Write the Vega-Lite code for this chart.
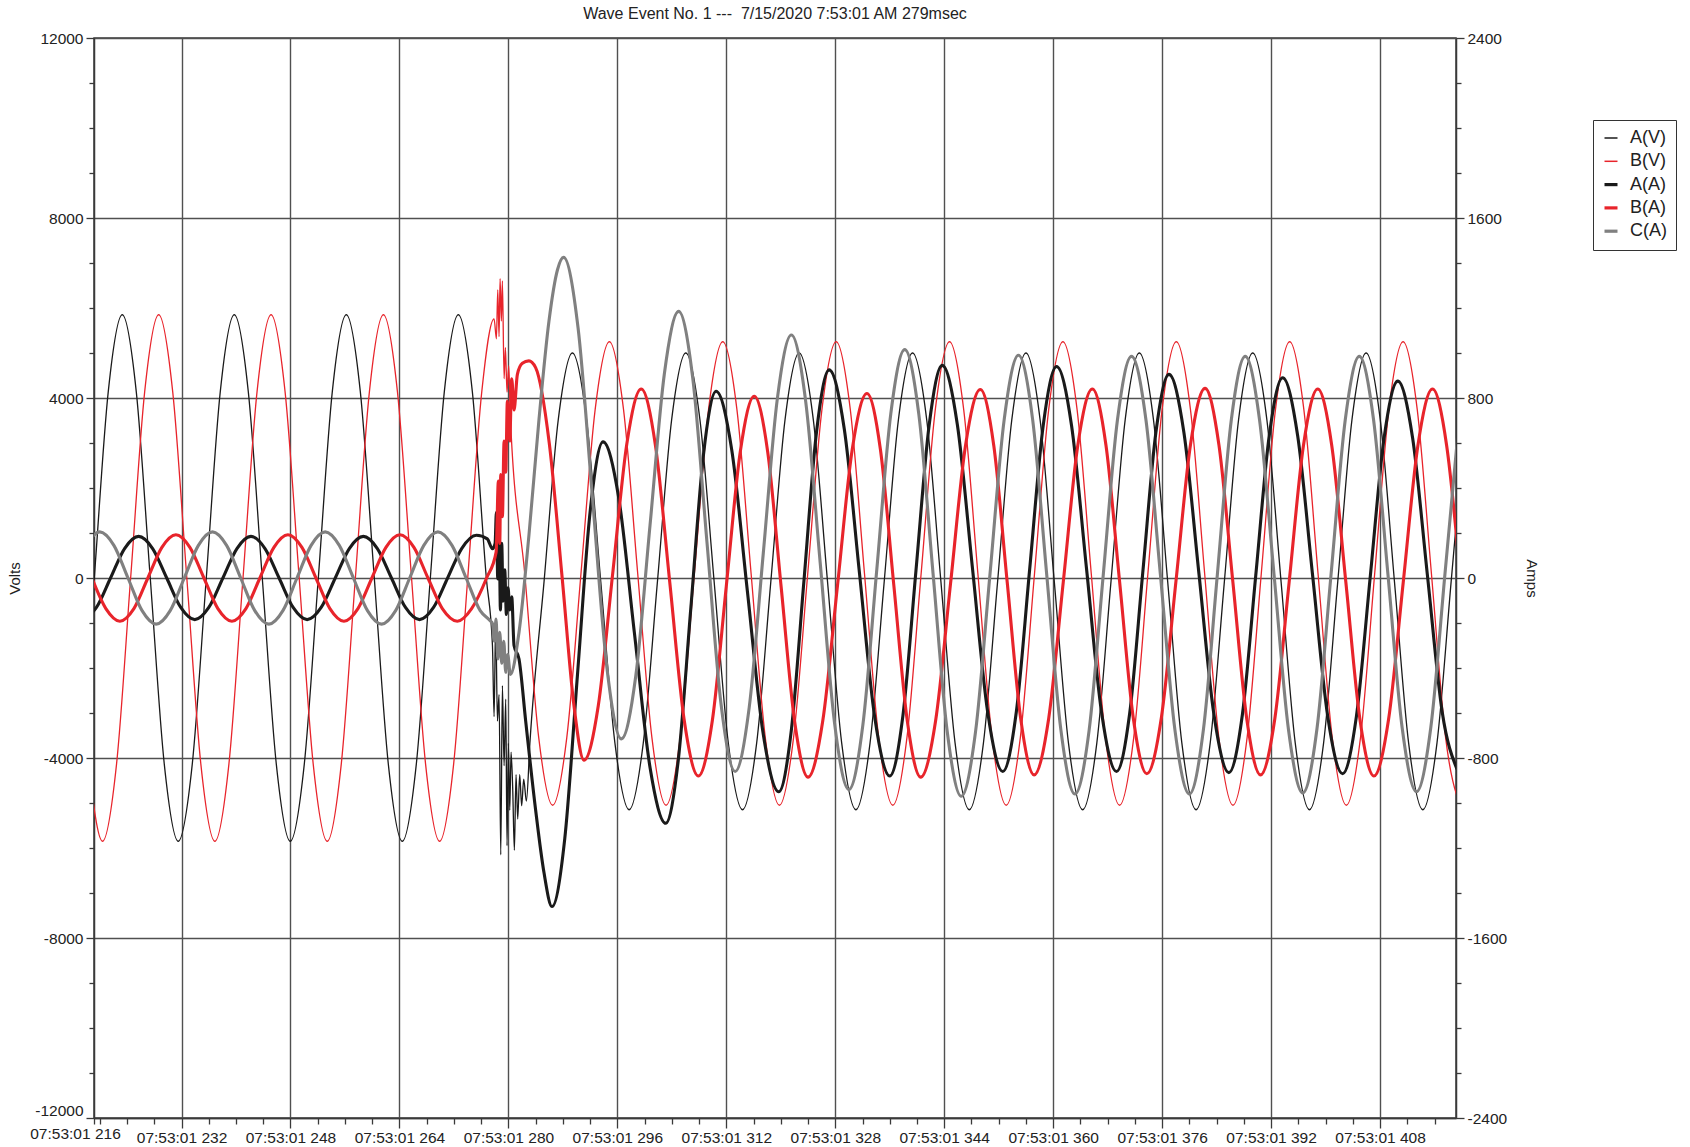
{
"$schema": "https://vega.github.io/schema/vega-lite/v6.json",
"width": 1362, "height": 1080,
"autosize": {"type": "none"},
"padding": {"left": 94, "top": 38, "right": 234, "bottom": 29},
"background": "white",
"config": {
  "font": "Liberation Sans",
  "view": {"stroke": "#3a3a3a", "strokeWidth": 1.5},
  "axis": {"labelFont": "Liberation Sans", "titleFont": "Liberation Sans", "labelColor": "#222", "titleColor": "#222", "titleFontWeight": "normal", "domainColor": "#3a3a3a", "tickColor": "#3a3a3a", "domainWidth": 1.5, "tickWidth": 1.3, "gridColor": "#505050", "gridWidth": 1.4, "labelFontSize": 15.5, "titleFontSize": 15}
},
"title": {"text": "Wave Event No. 1 ---\u00a0 7/15/2020 7:53:01 AM 279msec", "fontSize": 16, "fontWeight": "normal", "font": "Liberation Sans", "color": "#222", "anchor": "middle", "frame": "group", "offset": -4, "baseline": "alphabetic"},
"datasets": {
"volts": [
{"s":"A(V)","t":217.13,"v":-4136},{"s":"A(V)","t":219.19,"v":0},{"s":"A(V)","t":221.24,"v":4136},{"s":"A(V)","t":223.30,"v":5850},{"s":"A(V)","t":225.36,"v":4136},{"s":"A(V)","t":227.41,"v":0},{"s":"A(V)","t":229.47,"v":-4136},{"s":"A(V)","t":231.52,"v":-5850},{"s":"A(V)","t":233.58,"v":-4136},{"s":"A(V)","t":235.64,"v":0},{"s":"A(V)","t":237.69,"v":4136},{"s":"A(V)","t":239.75,"v":5850},{"s":"A(V)","t":241.81,"v":4136},{"s":"A(V)","t":243.86,"v":0},{"s":"A(V)","t":245.92,"v":-4136},{"s":"A(V)","t":247.97,"v":-5850},{"s":"A(V)","t":250.03,"v":-4136},{"s":"A(V)","t":252.09,"v":0},{"s":"A(V)","t":254.14,"v":4136},{"s":"A(V)","t":256.20,"v":5850},{"s":"A(V)","t":258.26,"v":4136},{"s":"A(V)","t":260.31,"v":0},{"s":"A(V)","t":262.37,"v":-4136},{"s":"A(V)","t":264.42,"v":-5850},{"s":"A(V)","t":266.48,"v":-4136},{"s":"A(V)","t":268.54,"v":0},{"s":"A(V)","t":270.59,"v":4136},{"s":"A(V)","t":272.65,"v":5850},{"s":"A(V)","t":274.71,"v":4136},{"s":"A(V)","t":276.76,"v":0},
{"s":"A(V)","t":277.66,"v":-1500},{"s":"A(V)","t":277.90,"v":-3080},{"s":"A(V)","t":278.14,"v":-910},{"s":"A(V)","t":278.39,"v":-3180},{"s":"A(V)","t":278.63,"v":-2590},{"s":"A(V)","t":278.88,"v":-6150},{"s":"A(V)","t":279.12,"v":-2390},{"s":"A(V)","t":279.37,"v":-4170},{"s":"A(V)","t":279.61,"v":-2690},{"s":"A(V)","t":279.80,"v":-5950},{"s":"A(V)","t":280.00,"v":-3675},{"s":"A(V)","t":280.20,"v":-5160},{"s":"A(V)","t":280.39,"v":-3870},{"s":"A(V)","t":280.63,"v":-4660},{"s":"A(V)","t":280.88,"v":-6050},{"s":"A(V)","t":281.12,"v":-4370},{"s":"A(V)","t":281.37,"v":-5355},{"s":"A(V)","t":281.66,"v":-4370},{"s":"A(V)","t":281.95,"v":-5060},{"s":"A(V)","t":282.25,"v":-4470},{"s":"A(V)","t":282.64,"v":-4960},{"s":"A(V)","t":283.16,"v":-3663},{"s":"A(V)","t":285.24,"v":-75},{"s":"A(V)","t":287.32,"v":3513},{"s":"A(V)","t":289.40,"v":5000},
{"s":"A(V)","t":291.48,"v":3513},{"s":"A(V)","t":293.56,"v":-75},{"s":"A(V)","t":295.64,"v":-3663},{"s":"A(V)","t":297.73,"v":-5150},{"s":"A(V)","t":299.81,"v":-3663},{"s":"A(V)","t":301.89,"v":-75},{"s":"A(V)","t":303.97,"v":3513},{"s":"A(V)","t":306.05,"v":5000},{"s":"A(V)","t":308.13,"v":3513},{"s":"A(V)","t":310.21,"v":-75},{"s":"A(V)","t":312.29,"v":-3663},{"s":"A(V)","t":314.38,"v":-5150},{"s":"A(V)","t":316.46,"v":-3663},{"s":"A(V)","t":318.54,"v":-75},{"s":"A(V)","t":320.62,"v":3513},{"s":"A(V)","t":322.70,"v":5000},{"s":"A(V)","t":324.78,"v":3513},{"s":"A(V)","t":326.86,"v":-75},{"s":"A(V)","t":328.94,"v":-3663},{"s":"A(V)","t":331.03,"v":-5150},{"s":"A(V)","t":333.11,"v":-3663},{"s":"A(V)","t":335.19,"v":-75},{"s":"A(V)","t":337.27,"v":3513},{"s":"A(V)","t":339.35,"v":5000},{"s":"A(V)","t":341.43,"v":3513},{"s":"A(V)","t":343.51,"v":-75},{"s":"A(V)","t":345.59,"v":-3663},{"s":"A(V)","t":347.68,"v":-5150},{"s":"A(V)","t":349.76,"v":-3663},{"s":"A(V)","t":351.84,"v":-75},{"s":"A(V)","t":353.92,"v":3513},{"s":"A(V)","t":356.00,"v":5000},{"s":"A(V)","t":358.08,"v":3513},{"s":"A(V)","t":360.16,"v":-75},{"s":"A(V)","t":362.24,"v":-3663},{"s":"A(V)","t":364.33,"v":-5150},{"s":"A(V)","t":366.41,"v":-3663},{"s":"A(V)","t":368.49,"v":-75},{"s":"A(V)","t":370.57,"v":3513},{"s":"A(V)","t":372.65,"v":5000},{"s":"A(V)","t":374.73,"v":3513},{"s":"A(V)","t":376.81,"v":-75},{"s":"A(V)","t":378.89,"v":-3663},{"s":"A(V)","t":380.98,"v":-5150},{"s":"A(V)","t":383.06,"v":-3663},{"s":"A(V)","t":385.14,"v":-75},{"s":"A(V)","t":387.22,"v":3513},{"s":"A(V)","t":389.30,"v":5000},{"s":"A(V)","t":391.38,"v":3513},{"s":"A(V)","t":393.46,"v":-75},{"s":"A(V)","t":395.54,"v":-3663},{"s":"A(V)","t":397.63,"v":-5150},{"s":"A(V)","t":399.71,"v":-3663},{"s":"A(V)","t":401.79,"v":-75},{"s":"A(V)","t":403.87,"v":3513},{"s":"A(V)","t":405.95,"v":5000},{"s":"A(V)","t":408.03,"v":3513},{"s":"A(V)","t":410.11,"v":-75},{"s":"A(V)","t":412.19,"v":-3663},{"s":"A(V)","t":414.28,"v":-5150},{"s":"A(V)","t":416.36,"v":-3663},{"s":"A(V)","t":418.44,"v":-75},{"s":"A(V)","t":420.52,"v":3513},
{"s":"B(V)","t":218.34,"v":-4136},{"s":"B(V)","t":220.40,"v":-5850},{"s":"B(V)","t":222.46,"v":-4136},{"s":"B(V)","t":224.53,"v":0},{"s":"B(V)","t":226.59,"v":4136},{"s":"B(V)","t":228.65,"v":5850},{"s":"B(V)","t":230.71,"v":4136},{"s":"B(V)","t":232.78,"v":0},{"s":"B(V)","t":234.84,"v":-4136},{"s":"B(V)","t":236.90,"v":-5850},{"s":"B(V)","t":238.96,"v":-4136},{"s":"B(V)","t":241.03,"v":0},{"s":"B(V)","t":243.09,"v":4136},{"s":"B(V)","t":245.15,"v":5850},{"s":"B(V)","t":247.21,"v":4136},{"s":"B(V)","t":249.28,"v":0},{"s":"B(V)","t":251.34,"v":-4136},{"s":"B(V)","t":253.40,"v":-5850},{"s":"B(V)","t":255.46,"v":-4136},{"s":"B(V)","t":257.53,"v":0},{"s":"B(V)","t":259.59,"v":4136},{"s":"B(V)","t":261.65,"v":5850},{"s":"B(V)","t":263.71,"v":4136},{"s":"B(V)","t":265.78,"v":0},{"s":"B(V)","t":267.84,"v":-4136},{"s":"B(V)","t":269.90,"v":-5850},{"s":"B(V)","t":271.96,"v":-4136},{"s":"B(V)","t":274.03,"v":0},{"s":"B(V)","t":276.09,"v":4136},
{"s":"B(V)","t":277.90,"v":5760},{"s":"B(V)","t":278.24,"v":5315},{"s":"B(V)","t":278.44,"v":6400},{"s":"B(V)","t":278.63,"v":5365},{"s":"B(V)","t":278.78,"v":6650},{"s":"B(V)","t":278.97,"v":5710},{"s":"B(V)","t":279.12,"v":6600},{"s":"B(V)","t":279.37,"v":4430},{"s":"B(V)","t":279.56,"v":5120},{"s":"B(V)","t":279.80,"v":4130},{"s":"B(V)","t":280.05,"v":4720},{"s":"B(V)","t":280.30,"v":3540},{"s":"B(V)","t":282.40,"v":100},{"s":"B(V)","t":284.45,"v":-3541},
{"s":"B(V)","t":286.50,"v":-5050},{"s":"B(V)","t":288.58,"v":-3541},{"s":"B(V)","t":290.66,"v":100},{"s":"B(V)","t":292.74,"v":3741},{"s":"B(V)","t":294.83,"v":5250},{"s":"B(V)","t":296.91,"v":3741},{"s":"B(V)","t":298.99,"v":100},{"s":"B(V)","t":301.07,"v":-3541},{"s":"B(V)","t":303.15,"v":-5050},{"s":"B(V)","t":305.23,"v":-3541},{"s":"B(V)","t":307.31,"v":100},{"s":"B(V)","t":309.39,"v":3741},{"s":"B(V)","t":311.48,"v":5250},{"s":"B(V)","t":313.56,"v":3741},{"s":"B(V)","t":315.64,"v":100},{"s":"B(V)","t":317.72,"v":-3541},{"s":"B(V)","t":319.80,"v":-5050},{"s":"B(V)","t":321.88,"v":-3541},{"s":"B(V)","t":323.96,"v":100},{"s":"B(V)","t":326.04,"v":3741},{"s":"B(V)","t":328.13,"v":5250},{"s":"B(V)","t":330.21,"v":3741},{"s":"B(V)","t":332.29,"v":100},{"s":"B(V)","t":334.37,"v":-3541},{"s":"B(V)","t":336.45,"v":-5050},{"s":"B(V)","t":338.53,"v":-3541},{"s":"B(V)","t":340.61,"v":100},{"s":"B(V)","t":342.69,"v":3741},{"s":"B(V)","t":344.78,"v":5250},{"s":"B(V)","t":346.86,"v":3741},{"s":"B(V)","t":348.94,"v":100},{"s":"B(V)","t":351.02,"v":-3541},{"s":"B(V)","t":353.10,"v":-5050},{"s":"B(V)","t":355.18,"v":-3541},{"s":"B(V)","t":357.26,"v":100},{"s":"B(V)","t":359.34,"v":3741},{"s":"B(V)","t":361.43,"v":5250},{"s":"B(V)","t":363.51,"v":3741},{"s":"B(V)","t":365.59,"v":100},{"s":"B(V)","t":367.67,"v":-3541},{"s":"B(V)","t":369.75,"v":-5050},{"s":"B(V)","t":371.83,"v":-3541},{"s":"B(V)","t":373.91,"v":100},{"s":"B(V)","t":375.99,"v":3741},{"s":"B(V)","t":378.08,"v":5250},{"s":"B(V)","t":380.16,"v":3741},{"s":"B(V)","t":382.24,"v":100},{"s":"B(V)","t":384.32,"v":-3541},{"s":"B(V)","t":386.40,"v":-5050},{"s":"B(V)","t":388.48,"v":-3541},{"s":"B(V)","t":390.56,"v":100},{"s":"B(V)","t":392.64,"v":3741},{"s":"B(V)","t":394.73,"v":5250},{"s":"B(V)","t":396.81,"v":3741},{"s":"B(V)","t":398.89,"v":100},{"s":"B(V)","t":400.97,"v":-3541},{"s":"B(V)","t":403.05,"v":-5050},{"s":"B(V)","t":405.13,"v":-3541},{"s":"B(V)","t":407.21,"v":100},{"s":"B(V)","t":409.29,"v":3741},{"s":"B(V)","t":411.38,"v":5250},{"s":"B(V)","t":413.46,"v":3741},{"s":"B(V)","t":415.54,"v":100},{"s":"B(V)","t":417.62,"v":-3541},{"s":"B(V)","t":419.70,"v":-5050}
],
"amps": [
{"s":"A(A)","t":217.45,"v":-185},{"s":"A(A)","t":219.51,"v":-131},{"s":"A(A)","t":221.58,"v":0},{"s":"A(A)","t":223.64,"v":131},{"s":"A(A)","t":225.70,"v":185},{"s":"A(A)","t":227.76,"v":131},{"s":"A(A)","t":229.83,"v":0},{"s":"A(A)","t":231.89,"v":-131},{"s":"A(A)","t":233.95,"v":-185},{"s":"A(A)","t":236.01,"v":-131},{"s":"A(A)","t":238.08,"v":0},{"s":"A(A)","t":240.14,"v":131},{"s":"A(A)","t":242.20,"v":185},{"s":"A(A)","t":244.26,"v":131},{"s":"A(A)","t":246.33,"v":0},{"s":"A(A)","t":248.39,"v":-131},{"s":"A(A)","t":250.45,"v":-185},{"s":"A(A)","t":252.51,"v":-131},{"s":"A(A)","t":254.58,"v":0},{"s":"A(A)","t":256.64,"v":131},{"s":"A(A)","t":258.70,"v":185},{"s":"A(A)","t":260.76,"v":131},{"s":"A(A)","t":262.83,"v":0},{"s":"A(A)","t":264.89,"v":-131},{"s":"A(A)","t":266.95,"v":-185},{"s":"A(A)","t":269.01,"v":-131},{"s":"A(A)","t":271.08,"v":0},{"s":"A(A)","t":273.14,"v":131},{"s":"A(A)","t":275.30,"v":190},{"s":"A(A)","t":276.90,"v":174},{"s":"A(A)","t":277.66,"v":130},{"s":"A(A)","t":278.05,"v":154},
{"s":"A(A)","t":278.24,"v":292},{"s":"A(A)","t":278.44,"v":-4},{"s":"A(A)","t":278.63,"v":253},{"s":"A(A)","t":278.83,"v":-142},{"s":"A(A)","t":279.02,"v":154},{"s":"A(A)","t":279.22,"v":-103},{"s":"A(A)","t":279.46,"v":36},{"s":"A(A)","t":279.71,"v":-162},{"s":"A(A)","t":279.95,"v":-43},{"s":"A(A)","t":280.20,"v":-142},{"s":"A(A)","t":280.49,"v":-83},{"s":"A(A)","t":280.83,"v":-300},{"s":"A(A)","t":281.56,"v":-360},{"s":"A(A)","t":282.54,"v":-636},{"s":"A(A)","t":284.00,"v":-1031},{"s":"A(A)","t":285.22,"v":-1308},{"s":"A(A)","t":286.40,"v":-1460},
{"s":"A(A)","t":288.28,"v":-1158},{"s":"A(A)","t":290.15,"v":-428},{"s":"A(A)","t":292.03,"v":303},{"s":"A(A)","t":293.90,"v":605},{"s":"A(A)","t":296.20,"v":357},{"s":"A(A)","t":298.50,"v":-243},{"s":"A(A)","t":300.80,"v":-842},{"s":"A(A)","t":303.10,"v":-1090},{"s":"A(A)","t":304.95,"v":-809},{"s":"A(A)","t":306.80,"v":-130},{"s":"A(A)","t":308.65,"v":549},{"s":"A(A)","t":310.50,"v":830},{"s":"A(A)","t":312.80,"v":569},{"s":"A(A)","t":315.10,"v":-60},{"s":"A(A)","t":317.40,"v":-689},{"s":"A(A)","t":319.70,"v":-950},{"s":"A(A)","t":321.55,"v":-676},{"s":"A(A)","t":323.40,"v":-13},{"s":"A(A)","t":325.25,"v":650},{"s":"A(A)","t":327.10,"v":925},{"s":"A(A)","t":329.33,"v":661},{"s":"A(A)","t":331.55,"v":23},{"s":"A(A)","t":333.78,"v":-616},{"s":"A(A)","t":336.00,"v":-880},{"s":"A(A)","t":337.93,"v":-613},{"s":"A(A)","t":339.85,"v":33},{"s":"A(A)","t":341.78,"v":678},{"s":"A(A)","t":343.70,"v":945},{"s":"A(A)","t":345.93,"v":681},{"s":"A(A)","t":348.15,"v":43},{"s":"A(A)","t":350.38,"v":-596},{"s":"A(A)","t":352.60,"v":-860},{"s":"A(A)","t":354.58,"v":-597},{"s":"A(A)","t":356.55,"v":40},{"s":"A(A)","t":358.53,"v":677},{"s":"A(A)","t":360.50,"v":940},{"s":"A(A)","t":362.70,"v":677},{"s":"A(A)","t":364.90,"v":40},{"s":"A(A)","t":367.10,"v":-597},{"s":"A(A)","t":369.30,"v":-860},{"s":"A(A)","t":371.23,"v":-602},{"s":"A(A)","t":373.15,"v":23},{"s":"A(A)","t":375.08,"v":647},{"s":"A(A)","t":377.00,"v":905},{"s":"A(A)","t":379.20,"v":646},{"s":"A(A)","t":381.40,"v":20},{"s":"A(A)","t":383.60,"v":-606},{"s":"A(A)","t":385.80,"v":-865},{"s":"A(A)","t":387.78,"v":-608},{"s":"A(A)","t":389.75,"v":13},{"s":"A(A)","t":391.73,"v":633},{"s":"A(A)","t":393.70,"v":890},{"s":"A(A)","t":395.90,"v":632},{"s":"A(A)","t":398.10,"v":10},{"s":"A(A)","t":400.30,"v":-612},{"s":"A(A)","t":402.50,"v":-870},{"s":"A(A)","t":404.53,"v":-614},{"s":"A(A)","t":406.55,"v":3},{"s":"A(A)","t":408.58,"v":620},{"s":"A(A)","t":410.60,"v":875},{"s":"A(A)","t":412.78,"v":622},{"s":"A(A)","t":414.95,"v":13},{"s":"A(A)","t":417.13,"v":-597},{"s":"A(A)","t":419.30,"v":-850},
{"s":"B(A)","t":218.84,"v":0},{"s":"B(A)","t":220.89,"v":-136},{"s":"B(A)","t":222.95,"v":-192},{"s":"B(A)","t":225.01,"v":-136},{"s":"B(A)","t":227.06,"v":0},{"s":"B(A)","t":229.12,"v":136},{"s":"B(A)","t":231.18,"v":192},{"s":"B(A)","t":233.23,"v":136},{"s":"B(A)","t":235.29,"v":0},{"s":"B(A)","t":237.34,"v":-136},{"s":"B(A)","t":239.40,"v":-192},{"s":"B(A)","t":241.46,"v":-136},{"s":"B(A)","t":243.51,"v":0},{"s":"B(A)","t":245.57,"v":136},{"s":"B(A)","t":247.63,"v":192},{"s":"B(A)","t":249.68,"v":136},{"s":"B(A)","t":251.74,"v":0},{"s":"B(A)","t":253.79,"v":-136},{"s":"B(A)","t":255.85,"v":-192},{"s":"B(A)","t":257.91,"v":-136},{"s":"B(A)","t":259.96,"v":0},{"s":"B(A)","t":262.02,"v":136},{"s":"B(A)","t":264.08,"v":192},{"s":"B(A)","t":266.13,"v":136},{"s":"B(A)","t":268.19,"v":0},{"s":"B(A)","t":270.30,"v":-136},{"s":"B(A)","t":272.50,"v":-192},{"s":"B(A)","t":274.60,"v":-136},{"s":"B(A)","t":276.80,"v":0},{"s":"B(A)","t":278.20,"v":115},
{"s":"B(A)","t":278.53,"v":431},{"s":"B(A)","t":278.73,"v":154},{"s":"B(A)","t":278.88,"v":460},{"s":"B(A)","t":279.12,"v":273},{"s":"B(A)","t":279.37,"v":609},{"s":"B(A)","t":279.61,"v":470},{"s":"B(A)","t":279.85,"v":786},{"s":"B(A)","t":280.20,"v":609},{"s":"B(A)","t":280.49,"v":885},{"s":"B(A)","t":280.83,"v":747},{"s":"B(A)","t":281.32,"v":905},{"s":"B(A)","t":282.05,"v":954},{"s":"B(A)","t":283.00,"v":965},{"s":"B(A)","t":284.00,"v":935},{"s":"B(A)","t":286.00,"v":600},{"s":"B(A)","t":287.90,"v":0},{"s":"B(A)","t":289.60,"v":-560},{"s":"B(A)","t":291.10,"v":-810},
{"s":"B(A)","t":293.20,"v":-568},{"s":"B(A)","t":295.30,"v":15},{"s":"B(A)","t":297.40,"v":598},{"s":"B(A)","t":299.50,"v":840},{"s":"B(A)","t":301.60,"v":588},{"s":"B(A)","t":303.70,"v":-20},{"s":"B(A)","t":305.80,"v":-628},{"s":"B(A)","t":307.90,"v":-880},{"s":"B(A)","t":309.95,"v":-633},{"s":"B(A)","t":312.00,"v":-36},{"s":"B(A)","t":314.05,"v":561},{"s":"B(A)","t":316.10,"v":808},{"s":"B(A)","t":318.08,"v":560},{"s":"B(A)","t":320.05,"v":-39},{"s":"B(A)","t":322.03,"v":-637},{"s":"B(A)","t":324.00,"v":-885},{"s":"B(A)","t":326.16,"v":-636},{"s":"B(A)","t":328.33,"v":-33},{"s":"B(A)","t":330.49,"v":571},{"s":"B(A)","t":332.65,"v":820},{"s":"B(A)","t":334.63,"v":571},{"s":"B(A)","t":336.60,"v":-33},{"s":"B(A)","t":338.58,"v":-636},{"s":"B(A)","t":340.55,"v":-885},{"s":"B(A)","t":342.74,"v":-633},{"s":"B(A)","t":344.93,"v":-24},{"s":"B(A)","t":347.11,"v":586},{"s":"B(A)","t":349.30,"v":838},{"s":"B(A)","t":351.28,"v":588},{"s":"B(A)","t":353.25,"v":-19},{"s":"B(A)","t":355.23,"v":-625},{"s":"B(A)","t":357.20,"v":-875},{"s":"B(A)","t":359.34,"v":-624},{"s":"B(A)","t":361.48,"v":-18},{"s":"B(A)","t":363.61,"v":589},{"s":"B(A)","t":365.75,"v":840},{"s":"B(A)","t":367.75,"v":590},{"s":"B(A)","t":369.75,"v":-15},{"s":"B(A)","t":371.75,"v":-620},{"s":"B(A)","t":373.75,"v":-870},{"s":"B(A)","t":375.89,"v":-620},{"s":"B(A)","t":378.03,"v":-14},{"s":"B(A)","t":380.16,"v":592},{"s":"B(A)","t":382.30,"v":843},{"s":"B(A)","t":384.34,"v":591},{"s":"B(A)","t":386.38,"v":-16},{"s":"B(A)","t":388.41,"v":-623},{"s":"B(A)","t":390.45,"v":-875},{"s":"B(A)","t":392.55,"v":-624},{"s":"B(A)","t":394.65,"v":-18},{"s":"B(A)","t":396.75,"v":589},{"s":"B(A)","t":398.85,"v":840},{"s":"B(A)","t":400.91,"v":588},{"s":"B(A)","t":402.98,"v":-20},{"s":"B(A)","t":405.04,"v":-628},{"s":"B(A)","t":407.10,"v":-880},{"s":"B(A)","t":409.25,"v":-628},{"s":"B(A)","t":411.40,"v":-20},{"s":"B(A)","t":413.55,"v":588},{"s":"B(A)","t":415.70,"v":840},{"s":"B(A)","t":417.78,"v":588},{"s":"B(A)","t":419.85,"v":-20},
{"s":"C(A)","t":217.93,"v":145},{"s":"C(A)","t":220.00,"v":205},{"s":"C(A)","t":222.07,"v":145},{"s":"C(A)","t":224.14,"v":0},{"s":"C(A)","t":226.21,"v":-145},{"s":"C(A)","t":228.28,"v":-205},{"s":"C(A)","t":230.34,"v":-145},{"s":"C(A)","t":232.41,"v":0},{"s":"C(A)","t":234.48,"v":145},{"s":"C(A)","t":236.55,"v":205},{"s":"C(A)","t":238.62,"v":145},{"s":"C(A)","t":240.69,"v":0},{"s":"C(A)","t":242.76,"v":-145},{"s":"C(A)","t":244.83,"v":-205},{"s":"C(A)","t":246.89,"v":-145},{"s":"C(A)","t":248.96,"v":0},{"s":"C(A)","t":251.03,"v":145},{"s":"C(A)","t":253.10,"v":205},{"s":"C(A)","t":255.17,"v":145},{"s":"C(A)","t":257.24,"v":0},{"s":"C(A)","t":259.31,"v":-145},{"s":"C(A)","t":261.38,"v":-205},{"s":"C(A)","t":263.44,"v":-145},{"s":"C(A)","t":265.51,"v":0},{"s":"C(A)","t":267.58,"v":145},{"s":"C(A)","t":269.65,"v":205},{"s":"C(A)","t":271.72,"v":145},{"s":"C(A)","t":273.79,"v":0},{"s":"C(A)","t":275.86,"v":-145},
{"s":"C(A)","t":277.40,"v":-192},{"s":"C(A)","t":277.66,"v":-202},{"s":"C(A)","t":277.95,"v":-281},{"s":"C(A)","t":278.19,"v":-182},{"s":"C(A)","t":278.44,"v":-360},{"s":"C(A)","t":278.73,"v":-241},{"s":"C(A)","t":279.02,"v":-379},{"s":"C(A)","t":279.32,"v":-281},{"s":"C(A)","t":279.61,"v":-419},{"s":"C(A)","t":279.90,"v":-340},{"s":"C(A)","t":280.29,"v":-429},{"s":"C(A)","t":281.56,"v":-241},{"s":"C(A)","t":283.03,"v":194},{"s":"C(A)","t":284.50,"v":707},{"s":"C(A)","t":285.96,"v":1142},{"s":"C(A)","t":287.20,"v":1369},{"s":"C(A)","t":288.10,"v":1425},
{"s":"C(A)","t":290.23,"v":1112},{"s":"C(A)","t":292.35,"v":355},{"s":"C(A)","t":294.48,"v":-402},{"s":"C(A)","t":296.60,"v":-715},{"s":"C(A)","t":298.70,"v":-437},{"s":"C(A)","t":300.80,"v":235},{"s":"C(A)","t":302.90,"v":907},{"s":"C(A)","t":305.00,"v":1185},{"s":"C(A)","t":307.08,"v":886},{"s":"C(A)","t":309.15,"v":163},{"s":"C(A)","t":311.23,"v":-561},{"s":"C(A)","t":313.30,"v":-860},{"s":"C(A)","t":315.36,"v":-576},{"s":"C(A)","t":317.43,"v":110},{"s":"C(A)","t":319.49,"v":796},{"s":"C(A)","t":321.55,"v":1080},{"s":"C(A)","t":323.66,"v":784},{"s":"C(A)","t":325.78,"v":70},{"s":"C(A)","t":327.89,"v":-644},{"s":"C(A)","t":330.00,"v":-940},{"s":"C(A)","t":332.05,"v":-654},{"s":"C(A)","t":334.10,"v":38},{"s":"C(A)","t":336.15,"v":729},{"s":"C(A)","t":338.20,"v":1015},{"s":"C(A)","t":340.28,"v":725},{"s":"C(A)","t":342.35,"v":23},{"s":"C(A)","t":344.43,"v":-680},{"s":"C(A)","t":346.50,"v":-970},{"s":"C(A)","t":348.60,"v":-683},{"s":"C(A)","t":350.70,"v":10},{"s":"C(A)","t":352.80,"v":703},{"s":"C(A)","t":354.90,"v":990},{"s":"C(A)","t":356.98,"v":705},{"s":"C(A)","t":359.05,"v":15},{"s":"C(A)","t":361.13,"v":-675},{"s":"C(A)","t":363.20,"v":-960},{"s":"C(A)","t":365.28,"v":-676},{"s":"C(A)","t":367.35,"v":13},{"s":"C(A)","t":369.43,"v":701},{"s":"C(A)","t":371.50,"v":985},{"s":"C(A)","t":373.63,"v":701},{"s":"C(A)","t":375.75,"v":13},{"s":"C(A)","t":377.88,"v":-676},{"s":"C(A)","t":380.00,"v":-960},{"s":"C(A)","t":382.05,"v":-676},{"s":"C(A)","t":384.10,"v":13},{"s":"C(A)","t":386.15,"v":701},{"s":"C(A)","t":388.20,"v":985},{"s":"C(A)","t":390.31,"v":701},{"s":"C(A)","t":392.43,"v":15},{"s":"C(A)","t":394.54,"v":-671},{"s":"C(A)","t":396.65,"v":-955},{"s":"C(A)","t":398.73,"v":-671},{"s":"C(A)","t":400.80,"v":15},{"s":"C(A)","t":402.88,"v":701},{"s":"C(A)","t":404.95,"v":985},{"s":"C(A)","t":407.05,"v":702},{"s":"C(A)","t":409.15,"v":18},{"s":"C(A)","t":411.25,"v":-667},{"s":"C(A)","t":413.35,"v":-950},{"s":"C(A)","t":415.44,"v":-667},{"s":"C(A)","t":417.53,"v":18},{"s":"C(A)","t":419.61,"v":702}
]
},
"encoding": {
  "x": {"field": "t", "type": "quantitative",
    "scale": {"domain": [219.15, 419.15], "nice": false, "zero": false},
    "axis": {"title": null, "grid": true,
      "values": [219.15,220,224,228,232,236,240,244,248,252,256,260,264,268,272,276,280,284,288,292,296,300,304,308,312,316,320,324,328,332,336,340,344,348,352,356,360,364,368,372,376,380,384,388,392,396,400,404,408,412,416],
      "labelExpr": "datum.value < 220 ? '07:53:01 216' : (datum.value % 16 == 8 ? '07:53:01 ' + datum.value : '')",
      "labelOverlap": false, "labelFlush": false, "labelBound": false,
      "labelOffset": {"condition": {"test": "datum.value < 220", "value": -19}, "value": 0},
      "tickSize": {"condition": {"test": "datum.value % 16 == 8", "value": 10}, "value": 6},
      "gridOpacity": {"condition": {"test": "datum.value % 16 == 8", "value": 1}, "value": 0},
      "labelPadding": 2, "labelFontSize": 15.5}},
  "color": {"field": "s", "type": "nominal",
    "scale": {"domain": ["A(V)", "B(V)", "A(A)", "B(A)", "C(A)"], "range": ["#1a1a1a", "#e8242b", "#1a1a1a", "#e8242b", "#808080"]},
    "legend": {"title": null, "orient": "none", "legendX": 1499, "legendY": 82, "direction": "vertical",
      "symbolType": "stroke", "symbolSize": 169, "symbolStrokeWidth": 2,
      "labelFontSize": 18, "labelFont": "Liberation Sans", "labelColor": "#222", "labelOffset": 10,
      "strokeColor": "#333", "padding": 9, "rowPadding": 5.3,
      "encode": {"symbols": {"update": {"strokeWidth": {"signal": "indexof(['A(A)','B(A)','C(A)'], datum.value) >= 0 ? 3.2 : 1.5"}}}}}}
},
"layer": [
  {"data": {"name": "volts"},
   "mark": {"type": "line", "interpolate": "monotone", "strokeWidth": 1.3, "clip": true, "strokeJoin": "round"},
   "encoding": {"y": {"field": "v", "type": "quantitative",
     "scale": {"domain": [-12000, 12000], "nice": false, "zero": false},
     "axis": {"title": "Volts", "grid": true,
       "values": [-12000,-11000,-10000,-9000,-8000,-7000,-6000,-5000,-4000,-3000,-2000,-1000,0,1000,2000,3000,4000,5000,6000,7000,8000,9000,10000,11000,12000],
       "labelExpr": "datum.value % 4000 == 0 ? '' + datum.value : ''",
       "labelOverlap": false, "labelBound": false,
       "labelBaseline": {"condition": {"test": "datum.value == -12000", "value": "bottom"}, "value": "middle"},
       "tickSize": {"condition": {"test": "datum.value % 4000 == 0", "value": 8}, "value": 5},
       "gridOpacity": {"condition": {"test": "datum.value % 4000 == 0", "value": 1}, "value": 0},
       "labelPadding": 3, "titlePadding": 12}}}},
  {"data": {"name": "amps"},
   "mark": {"type": "line", "interpolate": "monotone", "strokeWidth": 3.1, "clip": true, "strokeJoin": "round"},
   "encoding": {"y": {"field": "v", "type": "quantitative",
     "scale": {"domain": [-2400, 2400], "nice": false, "zero": false},
     "axis": {"title": "Amps", "orient": "right", "grid": false,
       "values": [-2400,-2200,-2000,-1800,-1600,-1400,-1200,-1000,-800,-600,-400,-200,0,200,400,600,800,1000,1200,1400,1600,1800,2000,2200,2400],
       "labelExpr": "datum.value % 800 == 0 ? '' + datum.value : ''",
       "labelOverlap": false, "labelBound": false,
       "tickSize": {"condition": {"test": "datum.value % 800 == 0", "value": 8}, "value": 5},
       "labelPadding": 3, "titlePadding": 17}}}}
],
"resolve": {"scale": {"y": "independent"}}
}
